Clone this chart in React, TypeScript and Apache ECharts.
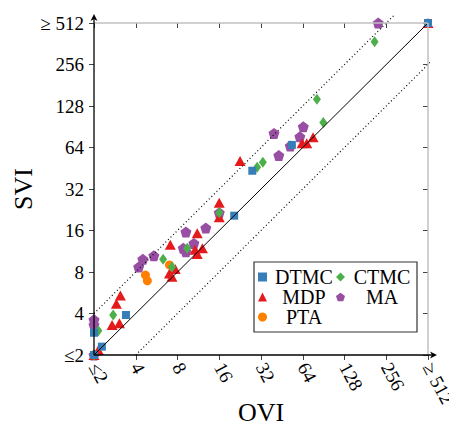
import React, { useEffect, useRef } from "react";
import * as echarts from "echarts";

// ---- data (OVI = x, SVI = y); values pinned at 2 (≤2) and 512 (≥512)
const DTMC_X = [2, 2, 2.28, 3.4, 20.5, 27.7, 53.4, 512];
const DTMC_Y = [2, 2.9, 2.3, 3.9, 20.5, 43.4, 66.8, 512];

const CTMC_X = [2, 2.15, 2.75, 6.3, 7.3, 9.4, 16, 30, 33, 81, 90, 211];
const CTMC_Y = [2, 3.0, 3.9, 9.9, 8.7, 11.9, 21.5, 46, 50, 143, 97, 374];

const MDP_X = [2, 2.15, 2.7, 3.05, 2.9, 3.1, 7.0, 7.3, 7.7, 7.1, 10.7, 12.1, 11.1, 11.1, 16, 16, 22.6, 63.3, 68.4, 76, 512];
const MDP_Y = [2, 2.17, 3.3, 3.4, 4.7, 5.4, 7.8, 7.4, 8.4, 12.6, 11.6, 11.9, 10.8, 15.3, 20, 25.4, 51, 68.6, 68.6, 76, 512];

const MA_X = [2, 2, 2, 4.2, 4.5, 5.4, 8.8, 9.2, 9.2, 10.5, 12.8, 16, 39.7, 43, 52, 61, 64.6, 224];
const MA_Y = [2, 3.3, 3.6, 8.7, 9.9, 10.5, 11.9, 11.2, 15.6, 12.9, 16.7, 21.5, 81, 56, 65.6, 76.6, 90.6, 512];

const PTA_X = [4.7, 4.85, 7.0];
const PTA_Y = [7.6, 6.9, 9.0];

const AXIS_MIN = 2;
const AXIS_MAX = 512;
const LEGEND_ORDER = ["DTMC", "CTMC", "MDP", "MA", "PTA"];

// reference lines y = x, y = 2x, y = x/2
const DIAG_X = [2, 512];
const UPPER_X = [2, 290];
const LOWER_X = [4, 600];

const pair = (xs: number[], ys: number[]) => xs.map((x, i) => [x, ys[i]]);

const PENTAGON = "path://M10,0 L19.51,6.91 L15.88,18.09 L4.12,18.09 L0.49,6.91 Z";

export default function App() {
  const ref = useRef<HTMLDivElement>(null);
  useEffect(() => {
    document.body.style.margin = "0";
    const chart = echarts.init(ref.current!, null, { renderer: "svg" });
    const font = "Liberation Serif";
    const fmt = (v: number) => {
      const r = Math.round(v);
      if (r <= AXIS_MIN) return "≤2";
      if (r >= AXIS_MAX) return "≥ 512";
      return String(r);
    };
    const base: any = {
      type: "log",
      logBase: 2,
      min: AXIS_MIN,
      max: AXIS_MAX,
      splitNumber: 8,
      splitLine: { show: false },
      axisLine: { show: false },
    };
    const tickStyle = { color: "#444", width: 1 };
    const scatter = (name: string, xs: number[], ys: number[], symbol: string, size: any, color: string, z: number) => ({
      name,
      type: "scatter",
      data: pair(xs, ys),
      symbol,
      symbolSize: size,
      itemStyle: { color, opacity: 1 },
      z,
    });
    chart.setOption({
      animation: false,
      textStyle: { fontFamily: font },
      grid: { left: 94, right: 21, top: 23, bottom: 74, containLabel: false, outerBoundsMode: "none" },
      xAxis: [
        {
          ...base,
          name: "OVI",
          nameLocation: "middle",
          nameGap: 44,
          nameMoveOverlap: false,
          nameTextStyle: { fontFamily: font, fontSize: 26, color: "#000" },
          axisTick: { show: true, length: 5, lineStyle: tickStyle },
          axisLabel: {
            formatter: fmt,
            rotate: -62,
            margin: 9,
            fontFamily: font,
            fontSize: 19,
            color: "#000",
            showMinLabel: true,
            showMaxLabel: true,
            hideOverlap: false,
          },
        },
        { ...base, axisTick: { show: true, inside: true, length: 5, lineStyle: tickStyle }, axisLabel: { show: false } },
      ],
      yAxis: [
        {
          ...base,
          name: "SVI",
          nameLocation: "middle",
          nameGap: 58,
          nameMoveOverlap: false,
          nameTextStyle: { fontFamily: font, fontSize: 26, color: "#000" },
          axisTick: { show: true, length: 5, lineStyle: tickStyle },
          axisLabel: {
            formatter: fmt,
            margin: 10,
            fontFamily: font,
            fontSize: 19,
            color: "#000",
            showMinLabel: true,
            showMaxLabel: true,
          },
        },
        { ...base, axisTick: { show: true, inside: true, length: 5, lineStyle: tickStyle }, axisLabel: { show: false } },
      ],
      legend: {
        data: LEGEND_ORDER,
        left: 254,
        top: 262,
        width: 160,
        orient: "horizontal",
        itemWidth: 9,
        itemHeight: 9,
        itemGap: 0,
        padding: [5, 3, 5, 4],
        borderColor: "#333",
        borderWidth: 1.2,
        backgroundColor: "#fff",
        formatter: (n: string) => `{t|${n}}`,
        textStyle: {
          fontFamily: font,
          fontSize: 20,
          color: "#000",
          rich: { t: { width: 64, align: "center", fontFamily: font, fontSize: 20, lineHeight: 24.5, color: "#000" } },
        },
      },
      series: [
        scatter("MA", MA_X, MA_Y, PENTAGON, 11, "#984ea3", 2),
        scatter("MDP", MDP_X, MDP_Y, "triangle", [11, 10], "#e41a1c", 2),
        scatter("PTA", PTA_X, PTA_Y, "circle", 9, "#ff7f00", 2),
        scatter("CTMC", CTMC_X, CTMC_Y, "diamond", [8, 11], "#4daf4a", 2),
        scatter("DTMC", DTMC_X, DTMC_Y, "rect", 8, "#377eb8", 2),
        {
          type: "line",
          data: DIAG_X.map((x) => [x, x]),
          symbol: "none",
          clip: false,
          lineStyle: { color: "#000", width: 1 },
          z: 4,
          silent: true,
          markLine: {
            silent: true,
            symbol: "none",
            label: { show: false },
            lineStyle: { color: "#c0c0c0", width: 1.5, type: "solid" },
            data: [{ xAxis: AXIS_MAX }, { yAxis: AXIS_MAX }],
          },
        },
        {
          type: "line",
          data: UPPER_X.map((x) => [x, 2 * x]),
          symbol: "none",
          clip: false,
          lineStyle: { color: "#000", width: 1.2, type: [1, 2.6] },
          z: 4,
          silent: true,
        },
        {
          type: "line",
          data: LOWER_X.map((x) => [x, x / 2]),
          symbol: "none",
          clip: false,
          lineStyle: { color: "#000", width: 1.2, type: [1, 2.6] },
          z: 4,
          silent: true,
        },
      ],
    });
    const o = chart.convertToPixel({ xAxisIndex: 0, yAxisIndex: 0 }, [AXIS_MIN, AXIS_MIN]) as number[];
    const e = chart.convertToPixel({ xAxisIndex: 0, yAxisIndex: 0 }, [AXIS_MAX, AXIS_MAX]) as number[];
    const xt = e[0] + 9;
    const yt = e[1] - 9;
    chart.setOption({
      graphic: [
        { type: "line", shape: { x1: o[0], y1: o[1], x2: xt - 3, y2: o[1] }, style: { stroke: "#000", lineWidth: 1.3 }, z: 10 },
        { type: "line", shape: { x1: o[0], y1: o[1], x2: o[0], y2: yt + 3 }, style: { stroke: "#000", lineWidth: 1.3 }, z: 10 },
        {
          type: "polygon",
          shape: { points: [[xt, o[1]], [xt - 7, o[1] - 3.5], [xt - 5, o[1]], [xt - 7, o[1] + 3.5]] },
          style: { fill: "#000" },
          z: 10,
        },
        {
          type: "polygon",
          shape: { points: [[o[0], yt], [o[0] - 3.5, yt + 7], [o[0], yt + 5], [o[0] + 3.5, yt + 7]] },
          style: { fill: "#000" },
          z: 10,
        },
      ],
    });
    return () => chart.dispose();
  }, []);
  return <div ref={ref} style={{ width: 449, height: 429 }} />;
}
